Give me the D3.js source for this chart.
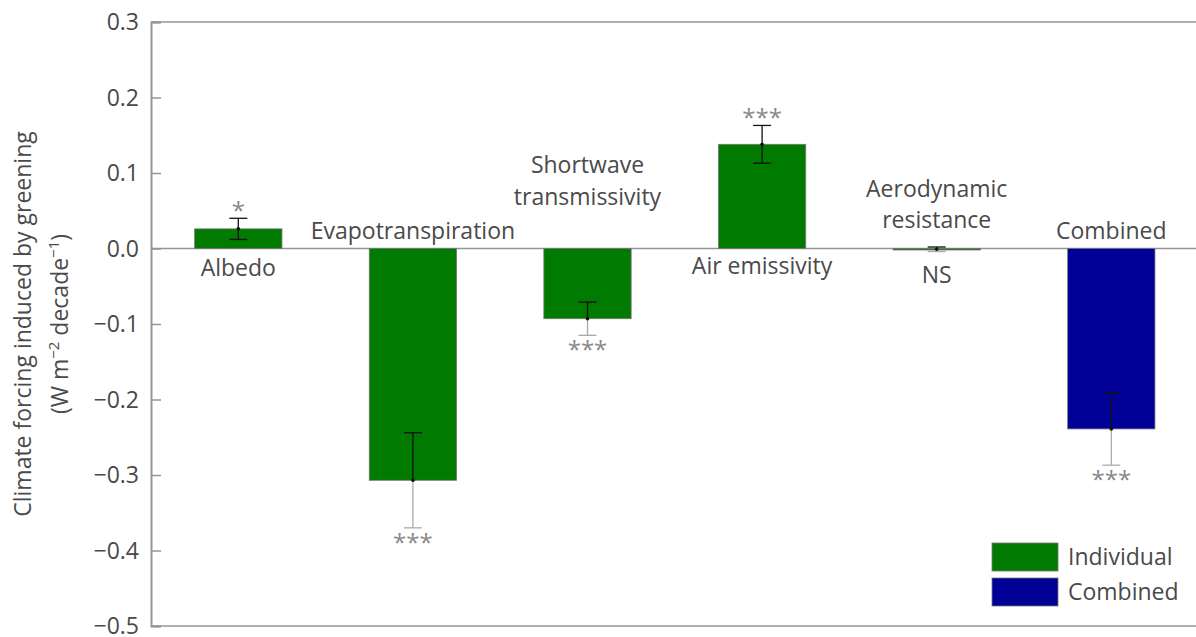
<!DOCTYPE html>
<html><head><meta charset="utf-8">
<script src="https://cdn.jsdelivr.net/npm/d3@7"></script>
<style>body{margin:0;background:#fff}svg{display:block}text{font-family:"Open Sans",sans-serif}</style>
</head><body><svg id="c" width="1196" height="637"></svg>
<script>
const categories = ["Albedo","Evapotranspiration","Shortwave transmissivity","Air emissivity","Aerodynamic resistance","Combined"];
const values = [0.026, -0.307, -0.093, 0.138, -0.001, -0.239];
const errors = [0.014, 0.063, 0.022, 0.025, 0.003, 0.048];
const groups = ["Individual","Individual","Individual","Individual","Individual","Combined"];
const signif = ["*","***","***","***","NS","***"];
const labelLines = [["Albedo"],["Evapotranspiration"],["Shortwave","transmissivity"],["Air emissivity"],["Aerodynamic","resistance"],["Combined"]];
const yTicks = [0.3,0.2,0.1,0.0,-0.1,-0.2,-0.3,-0.4,-0.5];
const legendItems = ["Individual","Combined"];
const colors = {Individual:"#017a01", Combined:"#000096"};

(function(){
const svg = d3.select("#c");
const mLeft = 151, mTop = 22, mBottom = 626;
const y = d3.scaleLinear().domain([-0.5,0.3]).range([mBottom, mTop]);
const x = d3.scaleBand().domain(categories).range([mLeft, mLeft+1047.6]).paddingInner(0.5).paddingOuter(0.25);
const axisCol = "#959595", textCol = "#4a4a4a";
// baseline offsets (px from zero line) for the category label lines
const labelOffsets = [[27],[-10],[-76,-44],[25],[-52,-21],[-10]];

svg.append("line").attr("x1",mLeft).attr("x2",1196).attr("y1",y(0.3)).attr("y2",y(0.3)).attr("stroke",axisCol).attr("stroke-width",1.5);
svg.append("line").attr("x1",mLeft).attr("x2",1196).attr("y1",y(-0.5)).attr("y2",y(-0.5)).attr("stroke",axisCol).attr("stroke-width",1.5);

const yAxis = d3.axisLeft(y).tickValues(yTicks).tickSize(-10).tickPadding(20)
  .tickFormat(d => (d<0?"\u2212":"") + Math.abs(d).toFixed(1));
const ga = svg.append("g").attr("transform",`translate(${mLeft},0)`).call(yAxis);
ga.select(".domain").attr("stroke",axisCol).attr("stroke-width",2);
ga.selectAll(".tick line").attr("stroke",axisCol).attr("stroke-width",1.5);
ga.selectAll(".tick text").attr("fill",textCol).style("font-size","23px").attr("x",-12).attr("dy","0.33em");

const cy = (mTop+mBottom)/2;
const yt = svg.append("text").attr("transform",`translate(31,${cy}) rotate(-90)`).attr("text-anchor","middle").attr("fill",textCol).style("font-size","23px");
yt.text("Climate forcing induced by greening");
const yt2 = svg.append("text").attr("transform",`translate(68,${cy}) rotate(-90)`).attr("text-anchor","middle").attr("fill",textCol).style("font-size","23px");
yt2.append("tspan").text("(W m");
yt2.append("tspan").attr("dy",-9).style("font-size","15px").text("\u22122");
yt2.append("tspan").attr("dy",9).text(" decade");
yt2.append("tspan").attr("dy",-9).style("font-size","15px").text("\u22121");
yt2.append("tspan").attr("dy",9).text(")");

svg.append("line").attr("x1",mLeft).attr("x2",1196).attr("y1",y(0)).attr("y2",y(0)).attr("stroke",axisCol).attr("stroke-width",1.5);

svg.selectAll("rect.bar").data(categories).join("rect").attr("class","bar")
  .attr("x",d=>x(d)).attr("width",x.bandwidth())
  .attr("y",(d,i)=>y(Math.max(0,values[i]))).attr("height",(d,i)=>Math.max(1.5,Math.abs(y(values[i])-y(0))))
  .attr("fill",(d,i)=>colors[groups[i]]).attr("stroke","#777").attr("stroke-width",0.8);

categories.forEach((c,i)=>{
  const cx = x(c)+x.bandwidth()/2, v = values[i], e = errors[i], cap = 9;
  const g = svg.append("g");
  const hi = v+e, lo = v-e;
  const upCol = "#111";
  const loCol = v<0 ? "#aaa" : "#111";
  g.append("line").attr("x1",cx).attr("x2",cx).attr("y1",y(v)).attr("y2",y(hi)).attr("stroke",upCol).attr("stroke-width",1.3);
  g.append("line").attr("x1",cx-cap).attr("x2",cx+cap).attr("y1",y(hi)).attr("y2",y(hi)).attr("stroke",upCol).attr("stroke-width",1.3);
  g.append("line").attr("x1",cx).attr("x2",cx).attr("y1",y(v)).attr("y2",y(lo)).attr("stroke",loCol).attr("stroke-width",1.3);
  g.append("line").attr("x1",cx-cap).attr("x2",cx+cap).attr("y1",y(lo)).attr("y2",y(lo)).attr("stroke",loCol).attr("stroke-width",1.3);
  g.append("circle").attr("cx",cx).attr("cy",y(v)).attr("r",1.8).attr("fill","#111");
  const s = signif[i];
  if (s === "NS") {
    svg.append("text").attr("x",cx).attr("y",y(0)+34).attr("text-anchor","middle").attr("fill",textCol).style("font-size","23px").text(s);
  } else if (v > 0) {
    svg.append("text").attr("x",cx).attr("y",y(hi)+1).attr("text-anchor","middle").attr("fill","#888").style("font-size","24px").text(s);
  } else {
    svg.append("text").attr("x",cx).attr("y",y(lo)+23).attr("text-anchor","middle").attr("fill","#888").style("font-size","24px").text(s);
  }
  labelLines[i].forEach((ln,j)=>{
    svg.append("text").attr("x",cx).attr("y",y(0)+labelOffsets[i][j]).attr("text-anchor","middle").attr("fill",textCol).style("font-size","23px").text(ln);
  });
});

legendItems.forEach((k,i)=>{
  svg.append("rect").attr("x",992).attr("y",543+i*35).attr("width",66).attr("height",28).attr("fill",colors[k]).attr("stroke","#777").attr("stroke-width",0.8);
  svg.append("text").attr("x",1068).attr("y",565+i*35).attr("fill",textCol).style("font-size","23px").text(k);
});
})();
</script></body></html>
